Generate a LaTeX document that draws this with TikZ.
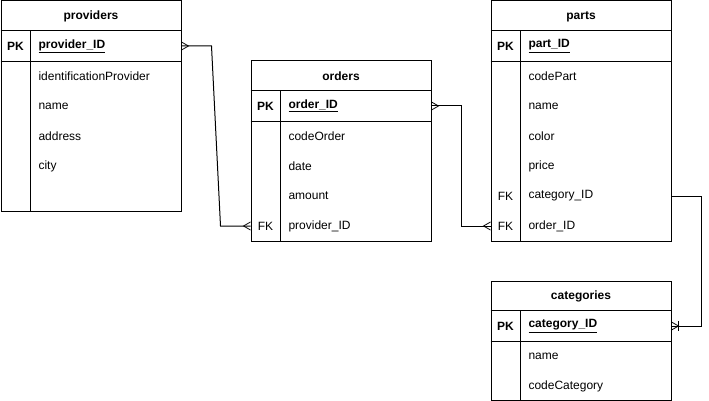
\documentclass[tikz,border=0pt]{standalone}
\usepackage{fontspec}
\setmainfont{Liberation Sans}
\usetikzlibrary{calc}
\begin{document}
\begin{tikzpicture}[x=1pt,y=-1pt,
  line width=1pt,
  tbl/.style={draw,anchor=north west,minimum width=180pt,inner sep=0pt},
  cell/.style={anchor=north west,minimum width=180pt,minimum height=30pt,inner sep=0pt},
  ttl/.style={font=\fontsize{12}{14}\selectfont\bfseries},
  key/.style={anchor=center,font=\fontsize{12}{14}\selectfont\bfseries},
  fld/.style={anchor=west,font=\fontsize{12}{14}\selectfont,inner sep=0pt},
  pkf/.style={anchor=west,font=\fontsize{12}{14}\selectfont\bfseries,inner sep=0pt},
  conn/.style={draw,line width=1pt},
  crowfoot/.pic={\draw[line width=0.8pt] (0,-4) -- (7,0) -- (0,4);},
  barfoot/.pic={\draw[line width=0.8pt] (0,-4) -- (7,0) -- (0,4); \draw[line width=0.8pt] (7,-5) -- (7,5);}
]
\useasboundingbox (0,0) rectangle (709,401);

% ---- providers ----
\node[tbl,minimum height=210pt] (providers) at (0.5,0.5) {};
\node[cell] (prov-t) at (0.5,0.5) {};
\node[ttl] at ($(prov-t.center)+(0,0.5)$) {providers};
\node[cell] (prov-pk) at (0.5,30.5) {};
\draw (prov-pk.north west) -- (prov-pk.north east);
\draw (prov-pk.south west) -- (prov-pk.south east);
\draw (30.5,30.5) -- (30.5,210.5);
\node[key] at (15.5,46) {PK};
\node[pkf] at (38,46) {\underline{provider\_ID}};
\node[fld] at (38,76) {identificationProvider};
\node[fld] at (38,106) {name};
\node[fld] at (38,136) {address};
\node[fld] at (38,166) {city};

% ---- orders ----
\node[tbl,minimum height=180pt] (orders) at (250.5,60.5) {};
\node[cell] (ord-t) at (250.5,60.5) {};
\node[ttl] at ($(ord-t.center)+(0,0.5)$) {orders};
\node[cell] (ord-pk) at (250.5,90.5) {};
\node[cell] (ord-fk) at (250.5,210.5) {};
\draw (ord-pk.north west) -- (ord-pk.north east);
\draw (ord-pk.south west) -- (ord-pk.south east);
\draw (280.5,90.5) -- (280.5,240.5);
\node[key] at (265.5,106) {PK};
\node[pkf] at (288,106) {\underline{order\_ID}};
\node[fld] at (288,136) {codeOrder};
\node[fld] at (288,166) {date};
\node[fld] at (288,196) {amount};
\node[fld,anchor=center] at (265.5,226) {FK};
\node[fld] at (288,226) {provider\_ID};

% ---- parts ----
\node[tbl,minimum height=240pt] (parts) at (490.5,0.5) {};
\node[cell] (part-t) at (490.5,0.5) {};
\node[ttl] at ($(part-t.center)+(0,0.5)$) {parts};
\node[cell] (part-pk) at (490.5,30.5) {};
\node[cell] (part-fk1) at (490.5,180.5) {};
\node[cell] (part-fk2) at (490.5,210.5) {};
\draw (part-pk.north west) -- (part-pk.north east);
\draw (part-pk.south west) -- (part-pk.south east);
\draw (520.5,30.5) -- (520.5,240.5);
\node[key] at (505.5,46) {PK};
\node[pkf] at (528,46) {\underline{part\_ID}};
\node[fld] at (528,76) {codePart};
\node[fld] at (528,106) {name};
\node[fld] at (528,136) {color};
\node[fld] at (528,166) {price};
\node[fld,anchor=center] at (505.5,196) {FK};
\node[fld] at (528,196) {category\_ID};
\node[fld,anchor=center] at (505.5,226) {FK};
\node[fld] at (528,226) {order\_ID};

% ---- categories ----
\node[tbl,minimum height=119pt] (categories) at (490.5,280.5) {};
\node[cell] (cat-t) at (490.5,280.5) {};
\node[ttl] at ($(cat-t.center)+(0,0.5)$) {categories};
\node[cell] (cat-pk) at (490.5,310.5) {};
\draw (cat-pk.north west) -- (cat-pk.north east);
\draw (cat-pk.south west) -- (cat-pk.south east);
\draw (520.5,310.5) -- (520.5,399.5);
\node[key] at (505.5,326) {PK};
\node[pkf] at (528,326) {\underline{category\_ID}};
\node[fld] at (528,356) {name};
\node[fld] at (528,386) {codeCategory};

% ---- relationships ----
\draw[conn] (prov-pk.east) -- ++(30,0) -- ($(ord-fk.west)+(-30,0)$) -- (ord-fk.west);
\pic at (prov-pk.east) {crowfoot};
\pic[xscale=-1] at (ord-fk.west) {crowfoot};

\draw[conn] (ord-pk.east) -- ++(30,0) |- (part-fk2.west);
\pic at (ord-pk.east) {crowfoot};
\pic[xscale=-1] at (part-fk2.west) {crowfoot};

\draw[conn] (part-fk1.east) -- ++(30,0) |- (cat-pk.east);
\pic at (cat-pk.east) {barfoot};
\end{tikzpicture}
\end{document}
